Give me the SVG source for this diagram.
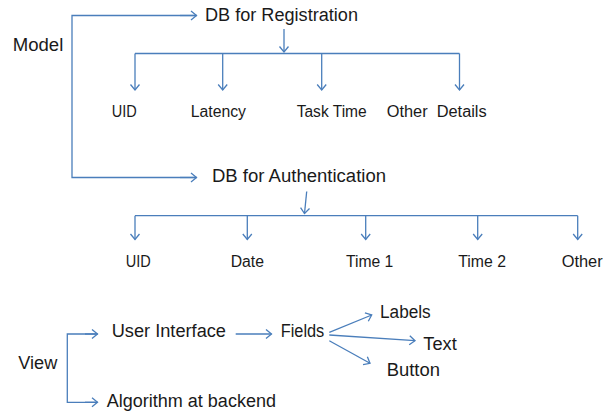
<svg xmlns="http://www.w3.org/2000/svg" width="603" height="413" viewBox="0 0 603 413">
  <style>
    text { font-family: "Liberation Sans", Arial, sans-serif; fill: #1a1a1a; }
    .big { font-size: 18px; }
    .small { font-size: 16px; }
    .c { fill: none; stroke: #4a7ebb; stroke-width: 1.3; marker-end: url(#ah); }
    .l { fill: none; stroke: #4a7ebb; stroke-width: 1.3; }
  </style>
  <defs>
    <marker id="ah" markerUnits="userSpaceOnUse" markerWidth="12" markerHeight="12" viewBox="-8 -6 10 12" refX="0" refY="0" orient="auto">
      <path d="M-5.5,-4.5 L0,0 L-5.5,4.5" fill="none" stroke="#4a7ebb" stroke-width="1.3"/>
    </marker>
  </defs>
  <rect width="603" height="413" fill="#ffffff"/>

  <g id="connectors">
    <!-- Model bracket -->
    <path class="c" d="M196.5,15.5 L72,15.5 L72,177.5 L196.5,177.5" style="marker-end:none"/>
    <path class="c" d="M180,15.5 L196.5,15.5"/>
    <path class="c" d="M180,177.5 L196.5,177.5"/>
    <!-- Registration tree -->
    <path class="c" d="M284,29 L284,52"/>
    <path class="l" d="M135,53.5 L459.5,53.5"/>
    <path class="c" d="M135,53.5 L135,90"/>
    <path class="c" d="M222.7,53.5 L222.7,90"/>
    <path class="c" d="M321.7,53.5 L321.7,90"/>
    <path class="c" d="M459.5,53.5 L459.5,90"/>
    <!-- Authentication tree -->
    <path class="c" d="M306.7,191.5 L304.5,213.5"/>
    <path class="l" d="M135,215.7 L577.7,215.7"/>
    <path class="c" d="M135,215.7 L135,239.5"/>
    <path class="c" d="M247.3,215.7 L247.3,239.5"/>
    <path class="c" d="M365.7,215.7 L365.7,239.5"/>
    <path class="c" d="M477.7,215.7 L477.7,239.5"/>
    <path class="c" d="M577.7,215.7 L577.7,239.5"/>
    <!-- View bracket -->
    <path class="l" d="M97.5,334 L67.3,334 L67.3,402.3 L97.5,402.3"/>
    <path class="c" d="M85,334 L97.5,334"/>
    <path class="c" d="M85,402.3 L97.5,402.3"/>
    <!-- UI to Fields -->
    <path class="c" d="M235.7,334 L271.5,334"/>
    <!-- Fields to children -->
    <path class="c" d="M329.3,332.3 L371.7,315"/>
    <path class="c" d="M329.3,335 L415,340.7"/>
    <path class="c" d="M329.3,340.7 L370,363.3"/>
  </g>

  <g id="model"><text class="big" x="12.7" y="51" textLength="50.6" lengthAdjust="spacingAndGlyphs">Model</text></g>
  <g id="db-registration"><text class="big" x="205" y="21" textLength="153" lengthAdjust="spacingAndGlyphs">DB for Registration</text></g>
  <g id="reg-uid"><text class="small" x="111.7" y="117.3" textLength="25" lengthAdjust="spacingAndGlyphs">UID</text></g>
  <g id="reg-latency"><text class="small" x="190.7" y="117.3" textLength="55.3" lengthAdjust="spacingAndGlyphs">Latency</text></g>
  <g id="reg-tasktime"><text class="small" x="296.7" y="117.3" textLength="70" lengthAdjust="spacingAndGlyphs">Task Time</text></g>
  <g id="reg-other"><text class="small" x="386.7" y="117.3" textLength="100" lengthAdjust="spacingAndGlyphs" xml:space="preserve">Other  Details</text></g>

  <g id="db-authentication"><text class="big" x="212" y="182" textLength="174" lengthAdjust="spacingAndGlyphs">DB for Authentication</text></g>
  <g id="auth-uid"><text class="small" x="125.7" y="267.3" textLength="25" lengthAdjust="spacingAndGlyphs">UID</text></g>
  <g id="auth-date"><text class="small" x="230.7" y="267.3" textLength="33.3" lengthAdjust="spacingAndGlyphs">Date</text></g>
  <g id="auth-time1"><text class="small" x="346" y="267.3" textLength="47.3" lengthAdjust="spacingAndGlyphs">Time 1</text></g>
  <g id="auth-time2"><text class="small" x="458.3" y="267.3" textLength="47.7" lengthAdjust="spacingAndGlyphs">Time 2</text></g>
  <g id="auth-other"><text class="small" x="561.7" y="267.3" textLength="41" lengthAdjust="spacingAndGlyphs">Other</text></g>

  <g id="view"><text class="big" x="18.3" y="369.3" textLength="39" lengthAdjust="spacingAndGlyphs">View</text></g>
  <g id="user-interface"><text class="big" x="111.7" y="337.3" textLength="114.3" lengthAdjust="spacingAndGlyphs">User Interface</text></g>
  <g id="algorithm"><text class="big" x="106.7" y="406.7" textLength="169.3" lengthAdjust="spacingAndGlyphs">Algorithm at backend</text></g>
  <g id="fields"><text class="big" x="280.7" y="337.3" textLength="43.6" lengthAdjust="spacingAndGlyphs">Fields</text></g>
  <g id="labels"><text class="big" x="380" y="318.3" textLength="50.7" lengthAdjust="spacingAndGlyphs">Labels</text></g>
  <g id="text"><text class="big" x="423.3" y="350" textLength="33.4" lengthAdjust="spacingAndGlyphs">Text</text></g>
  <g id="button"><text class="big" x="386.7" y="376" textLength="53.3" lengthAdjust="spacingAndGlyphs">Button</text></g>
</svg>
